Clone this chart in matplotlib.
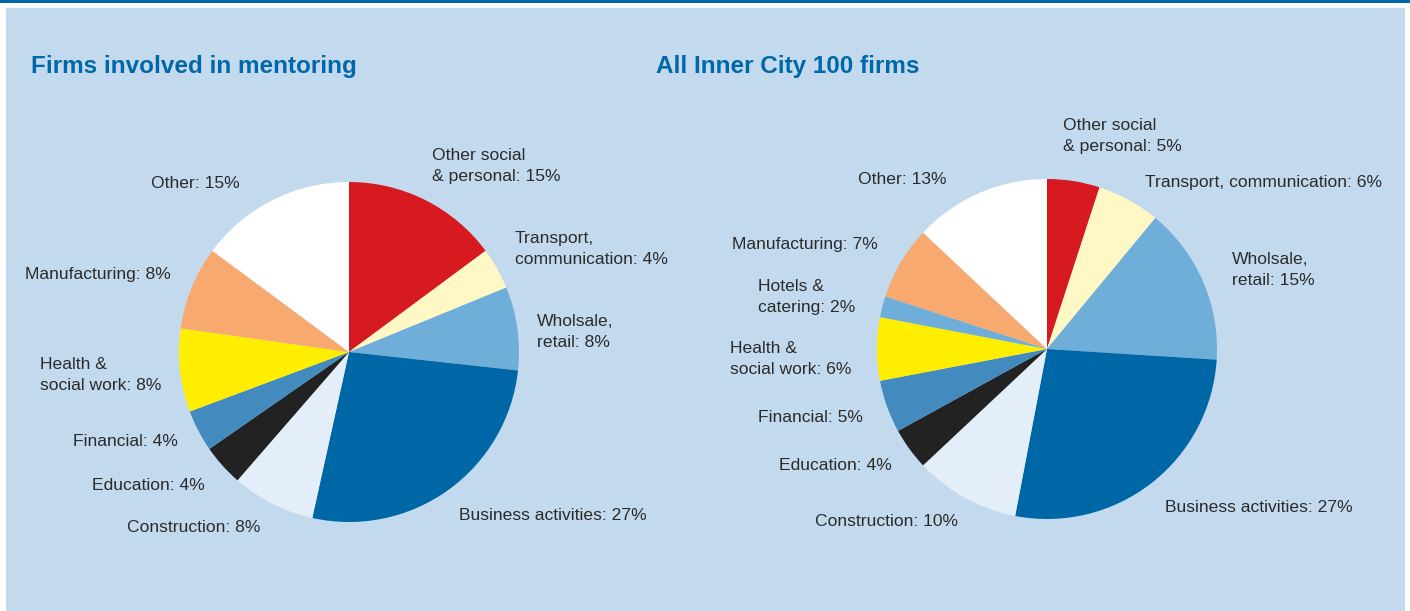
import matplotlib.pyplot as plt
from matplotlib.patches import Rectangle

plt.rcParams['font.family'] = ['Liberation Sans', 'DejaVu Sans']

# sectors, clockwise from 12 o'clock
mentor_labels = ['Other social\n& personal: 15%', 'Transport,\ncommunication: 4%',
                 'Wholsale,\nretail: 8%', 'Business activities: 27%', 'Construction: 8%',
                 'Education: 4%', 'Financial: 4%', 'Health &\nsocial work: 8%',
                 'Manufacturing: 8%', 'Other: 15%']
mentor_values = [15, 4, 8, 27, 8, 4, 4, 8, 8, 15]

all_labels = ['Other social\n& personal: 5%', 'Transport, communication: 6%',
              'Wholsale,\nretail: 15%', 'Business activities: 27%', 'Construction: 10%',
              'Education: 4%', 'Financial: 5%', 'Health &\nsocial work: 6%',
              'Hotels &\ncatering: 2%', 'Manufacturing: 7%', 'Other: 13%']
all_values = [5, 6, 15, 27, 10, 4, 5, 6, 2, 7, 13]

col = {'social': '#d71920', 'transport': '#fff8c5', 'wholesale': '#6faed9',
       'business': '#0067a6', 'construction': '#e3eef8', 'education': '#222222',
       'financial': '#438bbf', 'health': '#ffee00', 'hotels': '#6faed9',
       'manufacturing': '#f7a96f', 'other': '#ffffff'}
mentor_colors = [col[k] for k in ['social', 'transport', 'wholesale', 'business',
                                  'construction', 'education', 'financial', 'health',
                                  'manufacturing', 'other']]
all_colors = [col[k] for k in ['social', 'transport', 'wholesale', 'business',
                               'construction', 'education', 'financial', 'health',
                               'hotels', 'manufacturing', 'other']]

# label anchors in pixels (left x, y from top)
mentor_pos = [(432, 166), (515, 249), (537, 332), (459, 515), (127, 527),
              (92, 485), (73, 442), (40, 375), (25, 274), (151, 183)]
all_pos = [(1063, 136), (1145, 182), (1232, 270), (1165, 508), (815, 522),
           (779, 466), (758, 418), (730, 359), (758, 297), (732, 244), (858, 180)]

W, H = 1410, 611
fig = plt.figure(figsize=(W / 100, H / 100), dpi=100)
fig.patch.set_facecolor('white')
ax = fig.add_axes([0, 0, 1, 1])

ax.add_patch(Rectangle((0, H - 3), W, 3, color='#0068a8', lw=0))
ax.add_patch(Rectangle((6, 0), 1399, H - 8, color='#c3daee', lw=0))

def draw(values, colors, labels, pos, cx, cy, title, tx):
    ax.pie(values, colors=colors, startangle=90, counterclock=False,
           center=(cx, H - cy), radius=170, frame=True,
           wedgeprops=dict(linewidth=0))
    for lab, (x, y) in zip(labels, pos):
        ax.text(x, H - y, lab, ha='left', va='center', fontsize=12.6,
                color='#2b2b2b', linespacing=1.42)
    ax.text(tx, H - 73, title, ha='left', va='baseline', fontsize=17.5,
            fontweight='bold', color='#0068a8')

draw(mentor_values, mentor_colors, mentor_labels, mentor_pos, 349, 352,
     'Firms involved in mentoring', 31)
draw(all_values, all_colors, all_labels, all_pos, 1047, 349,
     'All Inner City 100 firms', 656)

ax.set_xlim(0, W)
ax.set_ylim(0, H)
ax.set_aspect('auto')
ax.axis('off')

fig.savefig('out.png', dpi=100, facecolor='white')
